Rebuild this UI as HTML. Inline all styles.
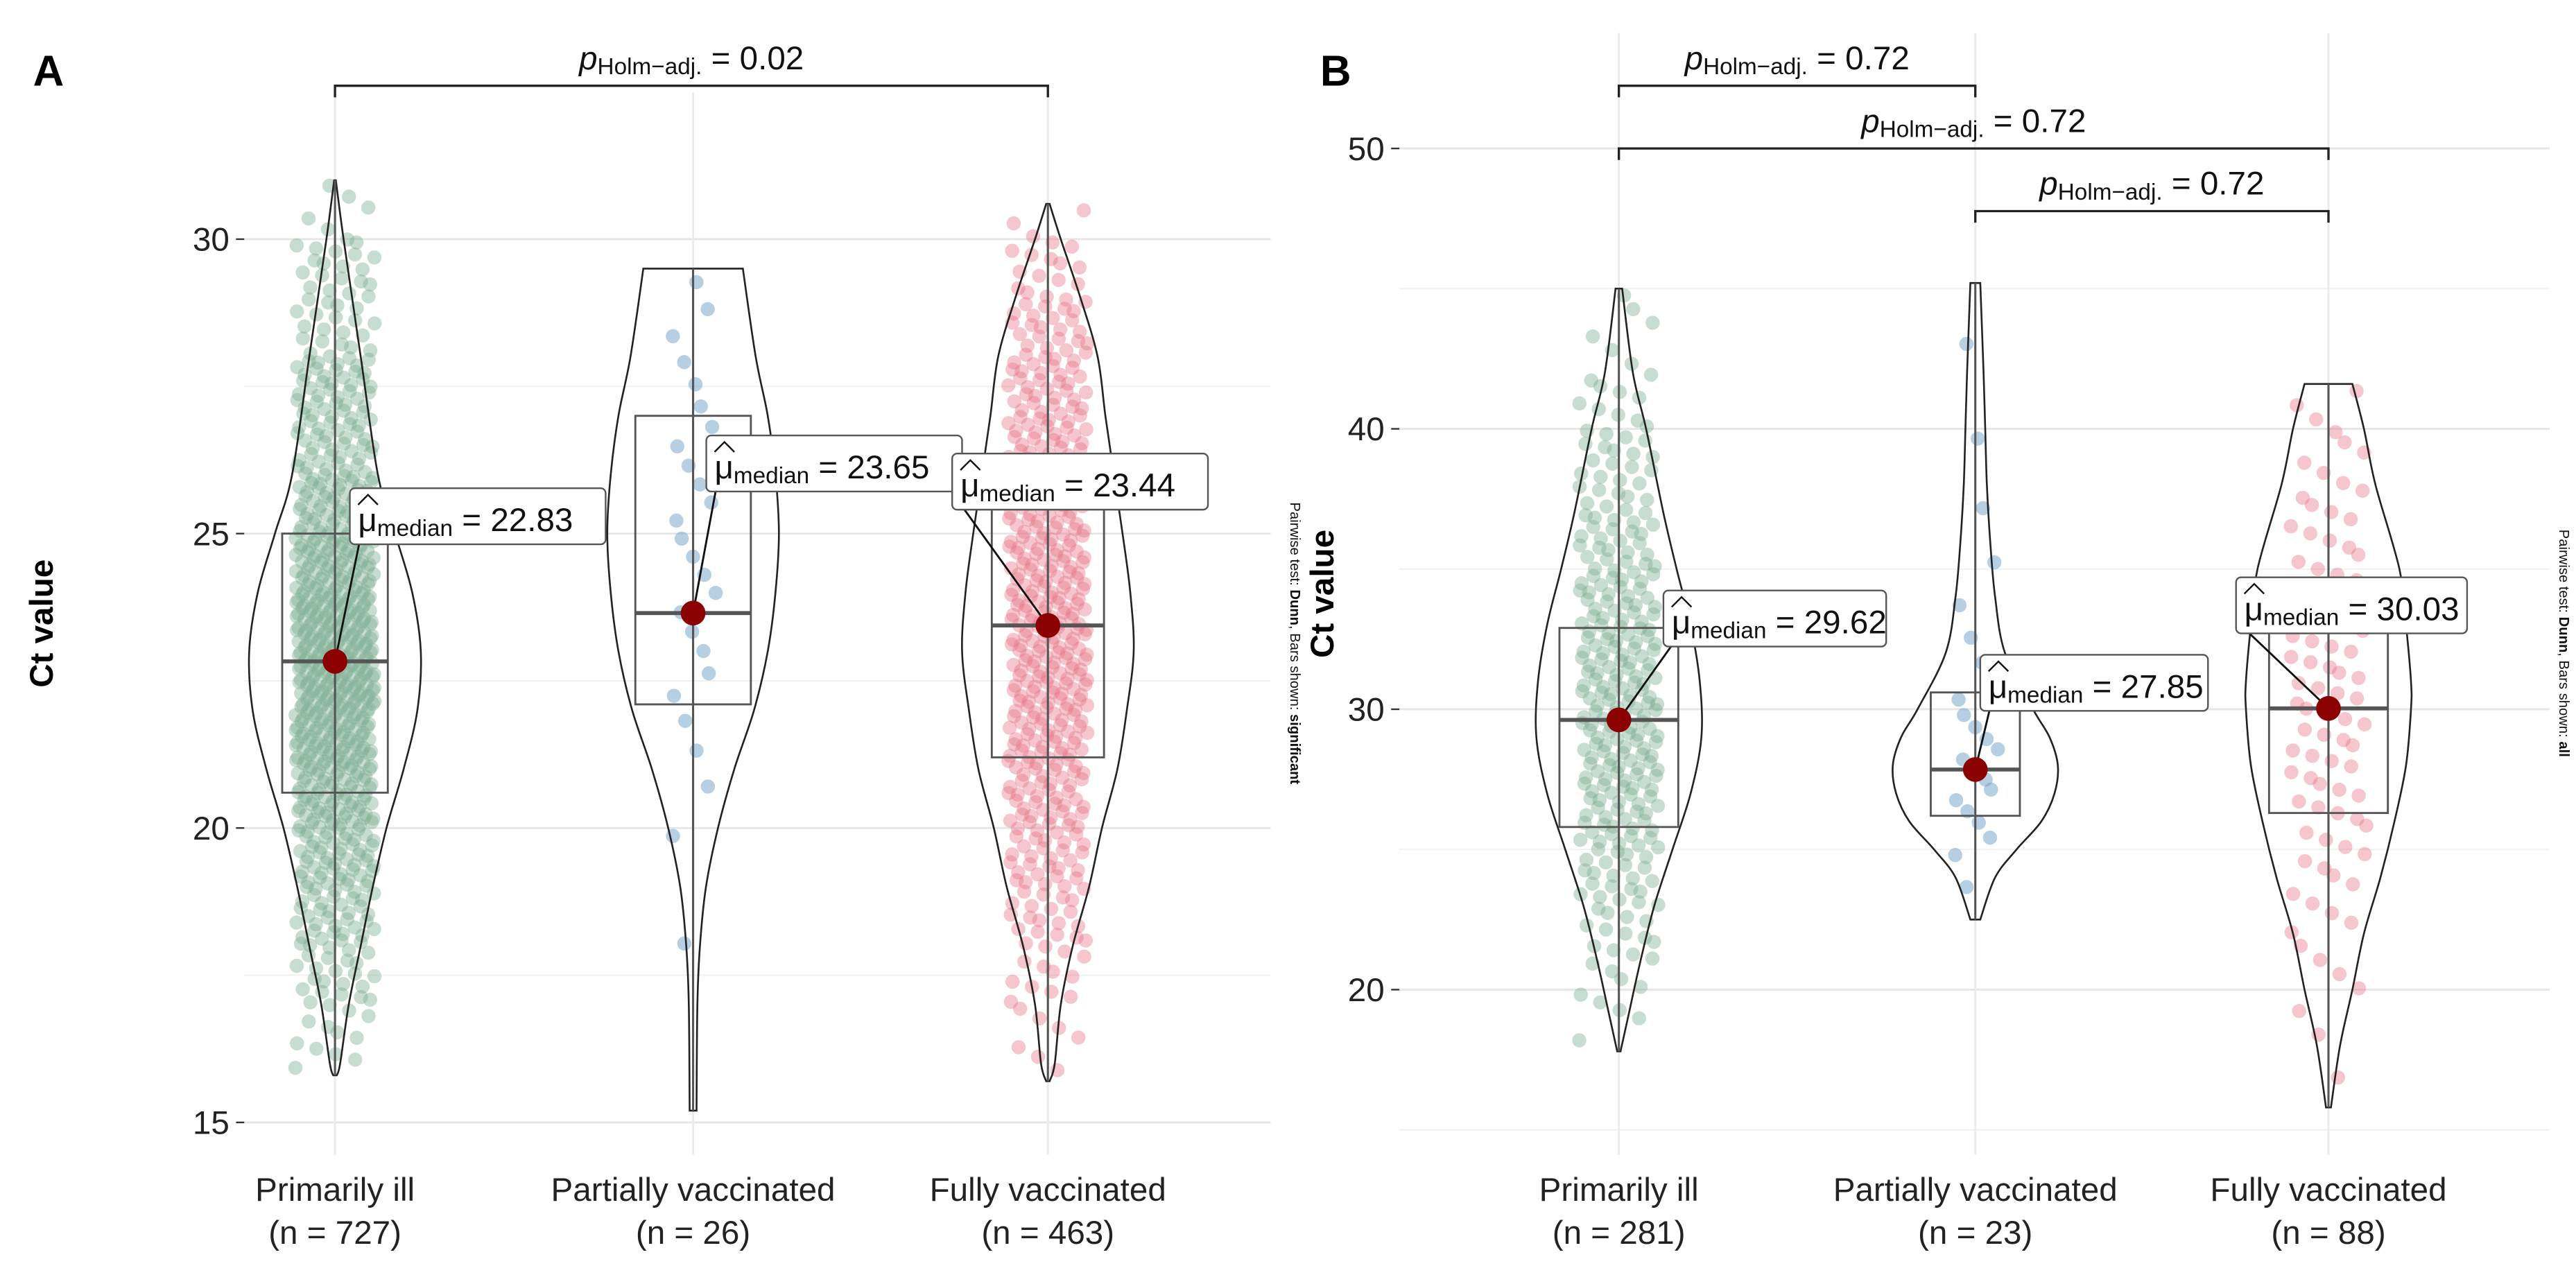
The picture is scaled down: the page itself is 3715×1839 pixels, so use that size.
<!DOCTYPE html>
<html><head><meta charset="utf-8">
<style>
html,body{margin:0;padding:0;background:#fff;}
svg{display:block;font-family:"Liberation Sans",Arial,sans-serif;}
</style></head>
<body>
<svg id="chart" width="3715" height="1839" viewBox="0 0 1561 773" preserveAspectRatio="none" xmlns="http://www.w3.org/2000/svg"></svg>
<script>
// ---------- DATA ----------
const catsA = ["Primarily ill","Partially vaccinated","Fully vaccinated"];
const nA = [727, 26, 463];
const medA = [22.83, 23.65, 23.44];
const q1A = [20.6, 22.1, 21.2];
const q3A = [25.0, 27.0, 25.7];
const minA = [15.8, 15.2, 15.7];
const maxA = [31.0, 29.5, 30.6];
const vyA0 = [15.8,16,17,18,19,20,21,22,23,24,25,26,28,30,31];
const vdA0 = [0.02,0.06,0.16,0.3,0.44,0.6,0.8,0.96,1.0,0.9,0.7,0.5,0.3,0.1,0.01];
const vyA1 = [15.2,17,18,19,20,21,22,23,24,25,26,27,28,29.5];
const vdA1 = [0.04,0.05,0.08,0.15,0.29,0.48,0.71,0.87,0.96,1.0,0.96,0.87,0.73,0.58];
const vyA2 = [15.7,16,17,18,19,20,21,22,23,24,25,26,27,28,29,30,30.6];
const vdA2 = [0.02,0.08,0.15,0.29,0.48,0.63,0.81,0.92,1.0,0.96,0.87,0.77,0.67,0.58,0.38,0.15,0.02];
const ticksA = [15, 20, 25, 30];

const catsB = ["Primarily ill","Partially vaccinated","Fully vaccinated"];
const nB = [281, 23, 88];
const medB = [29.62, 27.85, 30.03];
const q1B = [25.8, 26.2, 26.3];
const q3B = [32.9, 30.6, 32.8];
const minB = [17.8, 22.5, 15.8];
const maxB = [45.0, 45.2, 41.6];
const vyB0 = [17.8,19,21,23,25,27,29,31,33,35,37,40,42,45];
const vdB0 = [0.02,0.11,0.26,0.43,0.65,0.87,1.0,0.98,0.87,0.7,0.54,0.33,0.17,0.04];
const vyB1 = [22.5,24,25,26,27,28,29,30,32,34,36,38,40,42,45.2];
const vdB1 = [0.06,0.24,0.5,0.8,0.96,1.0,0.9,0.7,0.36,0.24,0.18,0.14,0.12,0.1,0.06];
const vyB2 = [15.8,18,20,22,24,26,28,30,31,33,35,38,40,41.6];
const vdB2 = [0.03,0.14,0.29,0.43,0.63,0.8,0.94,1.0,1.0,0.94,0.86,0.57,0.43,0.29];
const ticksB = [20, 30, 40, 50];

// ---------- LAYOUT ----------
const NS = "http://www.w3.org/2000/svg";
const svg = document.getElementById("chart");
function mk(tag, attrs, parent){
  const e = document.createElementNS(NS, tag);
  for (const k in attrs) e.setAttribute(k, attrs[k]);
  (parent||svg).appendChild(e);
  return e;
}
const colsFill = ["rgba(125,175,145,0.42)","rgba(110,160,200,0.5)","rgba(230,120,135,0.42)"];

function smoothPath(pts){
  let d = "M" + pts[0][0] + "," + pts[0][1];
  for (let i = 0; i < pts.length-1; i++){
    const p0 = pts[Math.max(0,i-1)], p1 = pts[i], p2 = pts[i+1], p3 = pts[Math.min(pts.length-1,i+2)];
    const c1 = [p1[0]+(p2[0]-p0[0])/6, p1[1]+(p2[1]-p0[1])/6];
    const c2 = [p2[0]-(p3[0]-p1[0])/6, p2[1]-(p3[1]-p1[1])/6];
    d += " C" + c1.join(",") + " " + c2.join(",") + " " + p2.join(",");
  }
  return d;
}

function drawPanel(cfg){
  const g = mk("g", {});
  
  
  const y = v => cfg.y0 + (v - cfg.v0) * cfg.k;
  const x = i => cfg.xs[i];
  // grid
  for (let v = cfg.gridMin; v <= cfg.gridMax + 1e-9; v += cfg.minorStep){
    if (y(v) > cfg.bottom || y(v) < cfg.top) continue;
    const major = cfg.ticks.some(t => Math.abs(t - v) < 1e-9);
    const l = mk("line", {x1:cfg.left, x2:cfg.right, y1:y(v), y2:y(v), stroke: major?"#e6e6e6":"#f0f0f0", "stroke-width": major?1.2:0.8}, g);
    
    
  }
  for (let i = 0; i < 3; i++){
    const l = mk("line", {x1:x(i), x2:x(i), y1:cfg.top, y2:cfg.bottom, stroke:"#ebebeb", "stroke-width":1.2}, g);
    
    
  }
  // y ticks
  cfg.ticks.forEach(t => {
    const tk = mk("line", {x1:cfg.left-5, x2:cfg.left, y1:y(t), y2:y(t), stroke:"#333", "stroke-width":1}, g);
    
    
    const tx = mk("text", {x:cfg.left-9, y:y(t)+7, "text-anchor":"end", "font-size":20, fill:"#222"}, g);
    tx.textContent = t;
    
    
  });
  const yt = mk("text", {x:0, y:0, transform:`translate(${cfg.ytx},${(cfg.top+cfg.bottom)/2}) rotate(-90)`, "text-anchor":"middle", "font-size":20, "font-weight":"bold"}, g);
  yt.textContent = "Ct value";
  
  
  const pl = mk("text", {x:cfg.letterX, y:52, "font-size":26, "font-weight":"bold"}, g);
  pl.textContent = cfg.letter;
  
  

  for (let i = 0; i < 3; i++){
    const vy = cfg.vy[i], vd = cfg.vd[i];
    // points: quantiles of the violin density
    const cum = [0];
    for (let j = 1; j < vy.length; j++) cum.push(cum[j-1] + (vd[j]+vd[j-1])/2*(vy[j]-vy[j-1]));
    const tot = cum[cum.length-1];
    const n = cfg.n[i];
    for (let m = 0; m < n; m++){
      const q = (m + 0.5) / n * tot;
      let j = 1; while (j < cum.length-1 && cum[j] < q) j++;
      const f = (q - cum[j-1]) / Math.max(1e-9, cum[j]-cum[j-1]);
      const v = vy[j-1] + f*(vy[j]-vy[j-1]);
      const h = ((m * 0.754877 + i*0.31 + Math.floor(m/7)*0.13) % 1) * 2 - 1;
      const c = mk("circle", {cx: x(i) + h*cfg.jit[i], cy: y(v), r:4.3, fill: colsFill[i]}, g);
      
      
    }
    // violin
    const right = [], left = [];
    for (let j = 0; j < vy.length; j++) right.push([x(i) + vd[j]*cfg.vw, y(vy[j])]);
    for (let j = vy.length-1; j >= 0; j--) left.push([x(i) - vd[j]*cfg.vw, y(vy[j])]);
    const d = smoothPath(right) + " L" + left[0].join(",") + smoothPath(left).slice(1 + left[0].join(",").length) + " Z";
    const vp = mk("path", {d: d, fill:"none", stroke:"#222", "stroke-width":1.1}, g);
    
    
    // box
    const bw = cfg.bw[i];
    const wl = mk("line", {x1:x(i), x2:x(i), y1:y(cfg.max[i]), y2:y(cfg.min[i]), stroke:"#555", "stroke-width":1.3}, g);
    
    
    const bx = mk("rect", {x:x(i)-bw, y:y(cfg.q3[i]), width:2*bw, height:y(cfg.q1[i])-y(cfg.q3[i]), fill:"none", stroke:"#555", "stroke-width":1.2}, g);
    
    
    const ml = mk("line", {x1:x(i)-bw, x2:x(i)+bw, y1:y(cfg.med[i]), y2:y(cfg.med[i]), stroke:"#555", "stroke-width":2.4}, g);
    
    
    // label
    const L = cfg.lab[i];
    const ln = mk("line", {x1:x(i), y1:y(cfg.med[i]), x2:L[0]+6, y2:L[1]+L[3]-2, stroke:"#111", "stroke-width":1.2}, g);
    
    
    const md = mk("circle", {cx:x(i), cy:y(cfg.med[i]), r:7.5, fill:"#8b0000"}, g);
    
    
    const lb = mk("g", {}, g);
    
    
    mk("rect", {x:L[0], y:L[1], width:L[2], height:L[3], rx:3, fill:"#fff", stroke:"#555", "stroke-width":1}, lb);
    const t = mk("text", {x:L[0]+5, y:L[1]+L[3]-8, "font-size":20, fill:"#111"}, lb);
    t.innerHTML = '<tspan>μ</tspan><tspan font-size="14" dy="3">median</tspan><tspan dy="-3"> = ' + cfg.med[i].toFixed(2) + '</tspan>';
    mk("polyline", {points:`${L[0]+5},${L[1]+10} ${L[0]+11},${L[1]+4} ${L[0]+17},${L[1]+10}`, fill:"none", stroke:"#111", "stroke-width":1}, lb);
    const xl = mk("text", {x:x(i), y:728, "text-anchor":"middle", "font-size":20, fill:"#222"}, g);
    xl.textContent = cfg.cats[i];
    
    
    const xn = mk("text", {x:x(i), y:754, "text-anchor":"middle", "font-size":20, fill:"#222"}, g);
    xn.textContent = "(n = " + cfg.n[i] + ")";
    
    
  }
  cfg.brackets.forEach(b => {
    const bg = mk("g", {}, g);
    
    
    mk("polyline", {points:`${x(b[0])},${b[2]+7} ${x(b[0])},${b[2]} ${x(b[1])},${b[2]} ${x(b[1])},${b[2]+7}`, fill:"none", stroke:"#222", "stroke-width":1.4}, bg);
    const t = mk("text", {x:(x(b[0])+x(b[1]))/2, y:b[2]-10, "text-anchor":"middle", "font-size":20, fill:"#111"}, bg);
    t.innerHTML = '<tspan font-style="italic">p</tspan><tspan font-size="14" dy="3">Holm−adj.</tspan><tspan dy="-3"> = ' + b[3] + '</tspan>';
  });
  const sc = mk("text", {x:0, y:0, transform:`translate(${cfg.sideX},${cfg.sideY}) rotate(90)`, "text-anchor":"middle", "font-size":8.5, fill:"#111"}, g);
  sc.innerHTML = 'Pairwise test: <tspan font-weight="bold">Dunn</tspan>, Bars shown: <tspan font-weight="bold">' + cfg.shown + '</tspan>';
  
  
}

drawPanel({name:"panel-a", letter:"A", letterX:20, cats:catsA, n:nA, med:medA, q1:q1A, q3:q3A, min:minA, max:maxA,
  vy:[vyA0,vyA1,vyA2], vd:[vdA0,vdA1,vdA2], ticks:ticksA, v0:30, y0:145, k:-35.7,
  gridMin:12.5, gridMax:32.5, minorStep:2.5, left:148, right:770, top:56, bottom:700,
  xs:[203,420,635], vw:52, jit:[24,14,24], bw:[32,35,34], ytx:32,
  lab:[[212,296,155,34],[428,264,155,34],[577,275,155,34]],
  brackets:[[0,2,52,"0.02"]], sideX:782, sideY:390, shown:"significant"});

drawPanel({name:"panel-b", letter:"B", letterX:800, cats:catsB, n:nB, med:medB, q1:q1B, q3:q3B, min:minB, max:maxB,
  vy:[vyB0,vyB1,vyB2], vd:[vdB0,vdB1,vdB2], ticks:ticksB, v0:30, y0:430, k:-17,
  gridMin:15, gridMax:50, minorStep:5, left:848, right:1545, top:20, bottom:700,
  xs:[981,1197,1411], vw:50, jit:[24,14,24], bw:[36,27,36], ytx:808,
  lab:[[1008,358,135,34],[1200,397,138,34],[1355,350,140,34]],
  brackets:[[0,1,52,"0.72"],[0,2,90,"0.72"],[1,2,128,"0.72"]], sideX:1551, sideY:390, shown:"all"});
</script>
</body></html>
